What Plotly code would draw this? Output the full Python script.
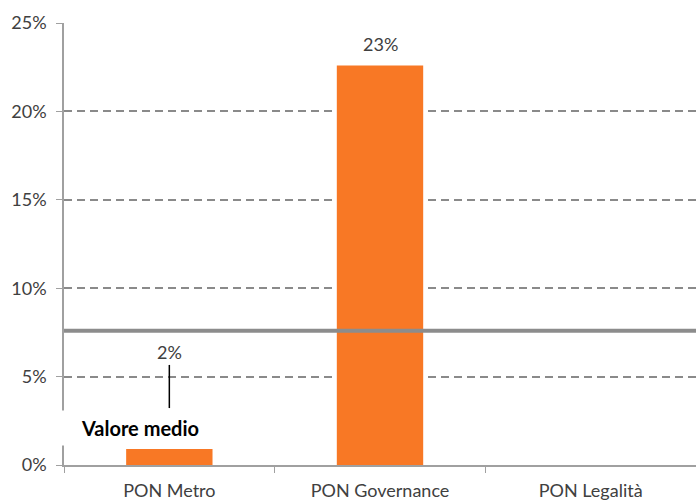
import plotly.graph_objects as go

categorie = ["PON Metro", "PON Governance", "PON Legalità"]
valori = [0.9, 22.6, 0.0]
etichette = ["2%", "23%", ""]
valore_medio = 7.6
etichetta_media = "Valore medio"
y_ticks = [0, 5, 10, 15, 20, 25]

FONT = "Lato, 'Open Sans', sans-serif"
TXT = "#404040"

fig = go.Figure()
fig.add_trace(go.Bar(
    x=categorie, y=valori, marker=dict(color="#F87825", line=dict(width=0)),
    width=0.41, showlegend=False, hoverinfo="skip",
))

# mean line
fig.add_hline(y=valore_medio, line=dict(color="#8C8C8C", width=4), layer="above")

# value labels
fig.add_annotation(x=categorie[1], y=valori[1], text=etichette[1], showarrow=False,
                   yshift=21, font=dict(family=FONT, size=18, color=TXT))
fig.add_annotation(x=categorie[0], y=valore_medio, text=etichette[0], showarrow=False,
                   yshift=-21, font=dict(family=FONT, size=18, color=TXT))
# leader line for the small value label
fig.add_shape(type="line", xref="x", yref="y", x0=0, x1=0, y0=3.22, y1=5.66,
              line=dict(color="black", width=1.5))

# "Valore medio" label with white box covering axis line
fig.add_annotation(xref="paper", yref="y", x=0.12, y=2.09, xanchor="center",
                   text="<b>" + etichetta_media + "</b>", showarrow=False,
                   bgcolor="white", width=164, height=34, borderpad=0, align="center",
                   font=dict(family=FONT, size=20, color="black"))

fig.update_layout(
    width=696, height=500,
    margin=dict(l=64, r=0, t=23, b=35),
    plot_bgcolor="white", paper_bgcolor="white",
    xaxis=dict(
        range=[-0.5, 2.5], showline=True, linecolor="#A0A0A0", linewidth=1.5,
        ticks="outside", tickson="boundaries", ticklen=6, tickcolor="#A0A0A0",
        tickfont=dict(family=FONT, size=18, color=TXT), showgrid=False,
        ticklabelstandoff=9, automargin=False,
    ),
    yaxis=dict(
        range=[0, 25], tickvals=y_ticks, ticktext=[f"{v}%" for v in y_ticks],
        showline=True, linecolor="#A0A0A0", linewidth=1.5,
        ticks="outside", ticklen=6, tickcolor="#A0A0A0",
        showgrid=True, gridcolor="#8A8A8A", gridwidth=1.6, griddash="8px,5px",
        zeroline=False, tickfont=dict(family=FONT, size=18, color=TXT),
        ticklabelstandoff=6, automargin=False,
    ),
)

fig.write_html("out.html", config={"displayModeBar": False},
               post_script="document.body.style.margin='0';")
